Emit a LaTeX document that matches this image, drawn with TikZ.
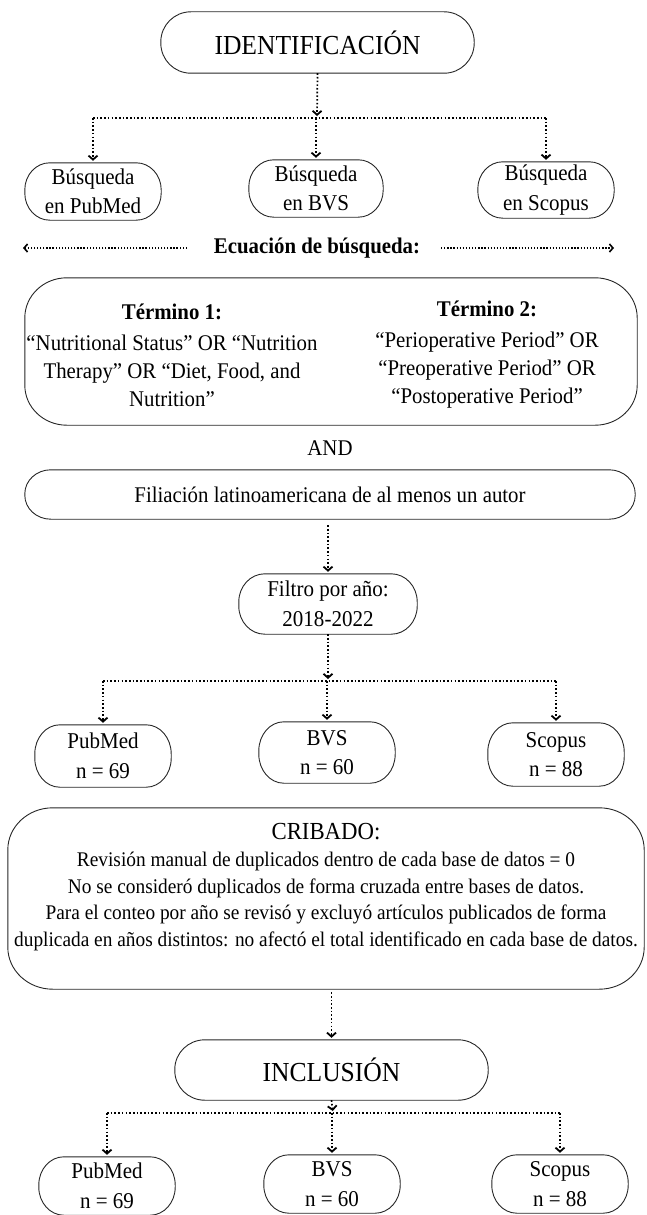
\documentclass[tikz,border=0pt]{standalone}
\usepackage{fontspec}
\setmainfont[FakeStretch=0.93]{Liberation Serif}
\usetikzlibrary{arrows.meta}
\newcommand\bodyf{\fontsize{22.4}{28}\selectfont}
\newcommand\boxf{\fontsize{22.6}{29.5}\selectfont}
\newcommand\titlef{\fontsize{27.5}{33}\selectfont}
\newcommand\cribf{\fontsize{20.8}{26.5}\selectfont}
% rounded outline around a named node: #1 name, #2 x radius, #3 y radius
\newcommand\pill[3]{\draw[boxline] ([xshift=#2]#1.north west) -- ([xshift=-#2]#1.north east)
  arc[start angle=90,end angle=0,x radius=#2,y radius=#3] -- ([yshift=#3]#1.south east)
  arc[start angle=0,end angle=-90,x radius=#2,y radius=#3] -- ([xshift=#2]#1.south west)
  arc[start angle=-90,end angle=-180,x radius=#2,y radius=#3] -- ([yshift=-#3]#1.north west)
  arc[start angle=180,end angle=90,x radius=#2,y radius=#3] -- cycle;}
\begin{document}
\begin{tikzpicture}[x=1pt,y=-1pt,
  boxline/.style={draw=black!85, line width=0.9pt},
  bx/.style={inner sep=0pt, align=center},
  conn/.style={draw=black, line width=1.7pt, dash pattern=on 1.6pt off 2.1pt},
  arr/.style={conn, -{Straight Barb[length=4pt,width=9pt,line width=1.8pt]}, shorten >=2pt},
  thinarr/.style={draw=black, line width=1.3pt, dash pattern=on 1.3pt off 1.8pt, -{Straight Barb[length=3.5pt,width=8pt,line width=1.6pt]}},
  txt/.style={inner sep=0pt, align=center}]
\useasboundingbox (0,0) rectangle (646,1215);

% ---------- Identificacion ----------
\node[bx, minimum width=313pt, minimum height=61pt, font=\titlef] (ident) at (317.5,42.5) {IDENTIFICACIÓN};
\pill{ident}{30pt}{30pt}
\node[bx, minimum width=136pt, minimum height=57pt, font=\boxf] (b1) at (93,191.5) {Búsqueda\\en PubMed};
\node[bx, minimum width=134pt, minimum height=57pt, font=\boxf] (b2) at (316,188.5) {Búsqueda\\en BVS};
\node[bx, minimum width=136pt, minimum height=56pt, font=\boxf] (b3) at (546,190) {Búsqueda\\en Scopus};
\pill{b1}{25pt}{27pt}
\pill{b2}{25pt}{27pt}
\pill{b3}{25pt}{27pt}

\coordinate (j1) at (317,118);
\draw[arr] (ident.south) -- (j1);
\draw[conn] (j1 -| b1) -- (j1 -| b3);
\draw[arr] (j1 -| b1) -- (b1.north);
\draw[arr] (j1 -| b2) -- (b2.north);
\draw[arr] (j1 -| b3) -- (b3.north);

% ---------- Ecuacion ----------
\node[txt, font=\bodyf\bfseries] (eq) at (317,248) {Ecuación de búsqueda:};
\coordinate (eqLs) at (187,248);
\coordinate (eqL) at (23,248);
\coordinate (eqRs) at (441,248);
\coordinate (eqR) at (614,248);
\draw[thinarr] (eqLs) -- (eqL);
\draw[thinarr] (eqRs) -- (eqR);

\node[bx, minimum width=612pt, minimum height=147pt] (terms) at (331,351.5) {};
\pill{terms}{42pt}{40pt}
\node[txt, font=\bodyf] (t1) at (172,355) {\textbf{Término 1:}\\[3pt]“Nutritional Status” OR “Nutrition\\Therapy” OR “Diet, Food, and\\Nutrition”};
\node[txt, font=\bodyf] (t2) at (487,355) {\textbf{Término 2:}\\[3pt]“Perioperative Period” OR\\“Preoperative Period” OR\\“Postoperative Period”};

\node[txt, font=\bodyf] (and) at (330,448) {AND};

\node[bx, minimum width=610pt, minimum height=49pt, font=\bodyf] (fil) at (330,494.5) {Filiación latinoamericana de al menos un autor};
\pill{fil}{26pt}{24pt}

\node[bx, minimum width=178pt, minimum height=60pt, font=\boxf] (filtro) at (328,604) {Filtro por año:\\2018-2022};
\pill{filtro}{26pt}{28pt}
\draw[arr] (fil.south -| filtro.north) ++(0,6) -- (filtro.north);

% ---------- counts ----------
\node[bx, minimum width=136pt, minimum height=62pt, font=\boxf] (p1) at (103,756) {PubMed\\n = 69};
\node[bx, minimum width=136pt, minimum height=61pt, font=\boxf] (v1) at (327,752.5) {BVS\\n = 60};
\node[bx, minimum width=136pt, minimum height=63pt, font=\boxf] (s1) at (556,754.5) {Scopus\\n = 88};
\pill{p1}{25pt}{29pt}
\pill{v1}{25pt}{29pt}
\pill{s1}{25pt}{29pt}

\coordinate (j2) at (328,681);
\draw[arr] (filtro.south) -- (j2);
\draw[conn] (j2 -| p1) -- (j2 -| s1);
\draw[arr] (j2 -| p1) -- (p1.north);
\draw[arr] (j2 -| v1) -- (v1.north);
\draw[arr] (j2 -| s1) -- (s1.north);

% ---------- Cribado ----------
\node[bx, minimum width=636pt, minimum height=181pt] (crib) at (326,898.5) {};
\pill{crib}{45pt}{42pt}
\node[txt, font=\cribf] (cribt) at (326,887) {{\fontsize{24.5}{30}\selectfont CRIBADO:}\\[1pt]
Revisión manual de duplicados dentro de cada base de datos = 0\\
No se consideró duplicados de forma cruzada entre bases de datos.\\
Para el conteo por año se revisó y excluyó artículos publicados de forma\\
duplicada en años distintos: no afectó el total identificado en cada base de datos.};

% ---------- Inclusion ----------
\node[bx, minimum width=313pt, minimum height=60pt, font=\titlef] (incl) at (331.5,1070) {INCLUSIÓN};
\pill{incl}{30pt}{29.5pt}
\draw[arr] (crib.south -| incl.north) ++(0,3) -- (incl.north);

\node[bx, minimum width=136pt, minimum height=58pt, font=\boxf] (p2) at (107,1186) {PubMed\\n = 69};
\node[bx, minimum width=136pt, minimum height=58pt, font=\boxf] (v2) at (332,1184) {BVS\\n = 60};
\node[bx, minimum width=136pt, minimum height=58pt, font=\boxf] (s2) at (560,1184) {Scopus\\n = 88};
\pill{p2}{25pt}{28pt}
\pill{v2}{25pt}{28pt}
\pill{s2}{25pt}{28pt}

\coordinate (j3) at (333,1113);
\draw[arr] (incl.south) -- (j3);
\draw[conn] (j3 -| p2) -- (j3 -| s2);
\draw[arr] (j3 -| p2) -- (p2.north);
\draw[arr] (j3 -| v2) -- (v2.north);
\draw[arr] (j3 -| s2) -- (s2.north);
\end{tikzpicture}
\end{document}
